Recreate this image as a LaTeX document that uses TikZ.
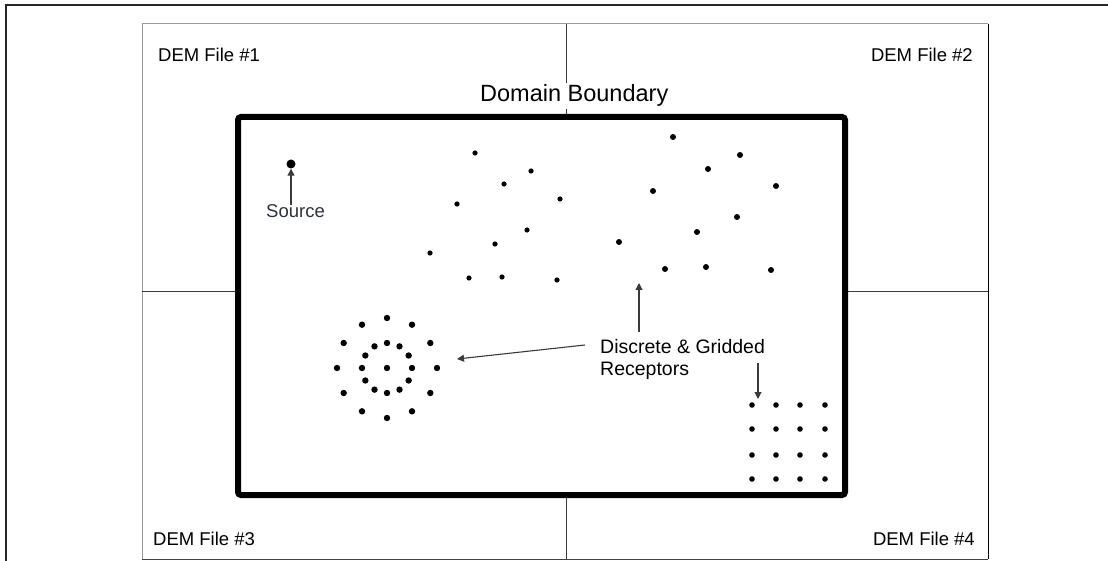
\documentclass[tikz,border=0pt]{standalone}
\usepackage{fontspec}
\setmainfont{Liberation Sans}
\usetikzlibrary{arrows.meta,calc}

\definecolor{framegray}{HTML}{9A9A9A}
\definecolor{linegray}{HTML}{3A3A3A}
\definecolor{srctext}{HTML}{2E3042}

\tikzset{
  txt/.style={inner sep=0pt, font=\fontsize{18.5}{22}\selectfont, text=black},
  ptr/.style={draw=linegray, line width=1.1pt, -{Triangle[length=7pt,width=7pt]}},
  domainbox/.style={draw=black, line width=6pt, rounded corners=3pt},
  divider/.style={draw=linegray, line width=1pt},
  rcpt/.style={fill=black},
}

\begin{document}
\begin{tikzpicture}[x=1pt, y=-1pt]
  \useasboundingbox (0,0) rectangle (1108,561);

  % outer frame (top and left edges)
  \draw[line width=2pt, black!85] (6,561) -- (6,5) -- (1108,5);

  % DEM tile layout
  \draw[framegray, line width=1pt] (988,24) -- (142,24) -- (142,559);
  \draw[black!75, line width=1pt] (142,559) -- (988,559);
  \draw[black, line width=1pt] (988,24) -- (988,559);
  \draw[divider] (566,24) -- (566,117);
  \draw[divider] (566,495) -- (566,559);
  \draw[divider] (142,292) -- (238,292);
  \draw[divider] (845,292) -- (988,292);

  % modelling domain
  \draw[domainbox] (238,117) rectangle (845,495);
  \node[txt, anchor=base west, fill=white, inner sep=2pt,
        font=\fontsize{23.5}{28}\selectfont] (dom) at (478,102) {Domain Boundary};

  % tile labels
  \node[txt, anchor=base west] (dem1) at (158,62) {DEM File \#1};
  \node[txt, anchor=base east] (dem2) at (973,62) {DEM File \#2};
  \node[txt, anchor=base west] (dem3) at (153,545) {DEM File \#3};
  \node[txt, anchor=base east] (dem4) at (975,545) {DEM File \#4};

  % source
  \node[circle, fill=black, inner sep=0pt, minimum size=9pt] (src) at (291,164) {};
  \node[txt, anchor=base west, text=srctext] (srclab) at (266,218) {Source};
  \draw[ptr] (srclab.north -| src) -- (src.south);

  % discrete receptors, left group
  \foreach \px/\py in {475/153, 531/171, 504/184, 457/204, 560/199, 527/230,
                       495/244, 430/253, 469/278, 502/277, 557/280}
    \fill[rcpt] (\px,\py) circle (2.6);

  % discrete receptors, right group
  \foreach \px/\py in {673/137, 740/155, 708/169, 776/186, 653/191, 737/217,
                       697/232, 619/242, 665/269, 706/267, 771/270}
    \fill[rcpt] (\px,\py) circle (3.0);

  % polar receptor rings
  \coordinate (ring) at (387,368);
  \fill[rcpt] (ring) circle (3.2);
  \foreach \a in {0,30,...,330} {
    \fill[rcpt] ($(ring)+(\a:50)$) circle (3.2);
    \fill[rcpt] ($(ring)+(\a:25)$) circle (3.2);
  }

  % gridded receptors
  \foreach \gx in {752,776,800,825}
    \foreach \gy in {405,429,455,479}
      \fill[rcpt] (\gx,\gy) circle (2.8);

  % receptor label and pointers
  \node[txt, anchor=north west, align=left, font=\fontsize{19.5}{22}\selectfont]
        (rec) at (600,339) {Discrete \& Gridded\\Receptors};
  \coordinate (recL) at (585,345);
  \coordinate (recT) at (639,332);
  \coordinate (recR) at (758,363);
  \coordinate (ringtip) at (457,359);
  \coordinate (disctip) at (639,283);
  \coordinate (gridtip) at (758,399);
  \draw[ptr] (recL) -- (ringtip);
  \draw[ptr] (recT) -- (disctip);
  \draw[ptr] (recR) -- (gridtip);
\end{tikzpicture}
\end{document}
